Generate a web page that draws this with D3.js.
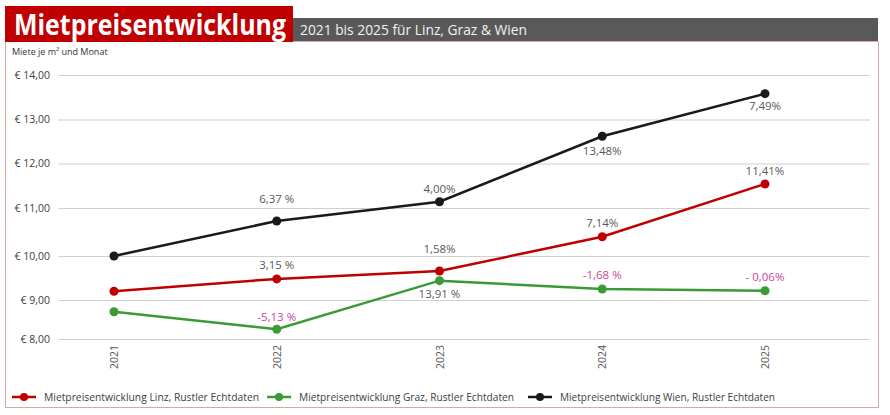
<!DOCTYPE html>
<html>
<head>
<meta charset="utf-8">
<script src="https://cdn.jsdelivr.net/npm/d3@7"></script>
<style>
  body { margin: 0; background: #fff; }
  svg { display: block; font-family: "Open Sans", sans-serif; }
</style>
</head>
<body>
<svg id="chart"></svg>
<script>
// data
const years = ['2021', '2022', '2023', '2024', '2025'];
const linz = [9.20, 9.48, 9.66, 10.40, 11.54];
const graz = [8.70, 8.25, 9.44, 9.25, 9.21];
const wien = [10.00, 10.73, 11.14, 12.62, 13.58];
const linzLabels = ['', '3,15 %', '1,58%', '7,14%', '11,41%'];
const grazLabels = ['', '-5,13 %', '13,91 %', '-1,68 %', '- 0,06%'];
const wienLabels = ['', '6,37 %', '4,00%', '13,48%', '7,49%'];
const yTicks = [8, 9, 10, 11, 12, 13, 14];
const seriesNames = [
  'Mietpreisentwicklung Linz, Rustler Echtdaten',
  'Mietpreisentwicklung Graz, Rustler Echtdaten',
  'Mietpreisentwicklung Wien, Rustler Echtdaten'
];

const width = 890, height = 415;
const svg = d3.select('#chart').attr('width', width).attr('height', height);

// layout (the grid in the picture is slightly uneven, so map each tick)
const tickPos = [339, 300, 256, 208, 163.5, 119.5, 75];
const colors = ['#c00000', '#3a9a35', '#1a1a1a'];
const labelDy = [
  [0, -14, -22, -14, -13],
  [0, -13, 13, -15, -14],
  [0, -22, -13, 14, 12]
];

const x = d3.scalePoint().domain(years).range([114, 765]);
const y = d3.scaleLinear().domain(yTicks).range(tickPos);

// frame
svg.append('rect')
  .attr('x', 5.5).attr('y', 41.5).attr('width', 873).attr('height', 366)
  .attr('fill', 'none').attr('stroke', '#d8a8a8').attr('stroke-width', 1);

// header
svg.append('rect').attr('x', 293).attr('y', 18).attr('width', 585).attr('height', 23).attr('fill', '#595959');
svg.append('rect').attr('x', 5).attr('y', 6).attr('width', 288).attr('height', 36).attr('fill', '#c00000');
svg.append('text')
  .attr('x', 14).attr('y', 35)
  .attr('fill', '#fff').attr('font-weight', 'bold').attr('font-size', 28)
  .attr('textLength', 272).attr('lengthAdjust', 'spacingAndGlyphs')
  .text('Mietpreisentwicklung');
svg.append('text')
  .attr('x', 300).attr('y', 35)
  .attr('fill', '#f2f2f2').attr('font-size', 15)
  .attr('textLength', 227).attr('lengthAdjust', 'spacingAndGlyphs')
  .text('2021 bis 2025 für Linz, Graz & Wien');

svg.append('text')
  .attr('x', 12).attr('y', 55)
  .attr('fill', '#333').attr('font-size', 9)
  .text('Miete je m² und Monat');

// y axis
const yAxis = svg.append('g')
  .attr('transform', 'translate(58,0)')
  .call(d3.axisLeft(y).tickValues(yTicks).tickSize(-812).tickPadding(8)
    .tickFormat(d => '€ ' + d3.format('.2f')(d).replace('.', ',')));
yAxis.select('.domain').remove();
yAxis.selectAll('.tick line').attr('stroke', '#d0d0d0').attr('stroke-width', 1.2);
yAxis.selectAll('.tick text').attr('fill', '#404040').attr('font-size', 10.5)
  .attr('font-family', '"Open Sans", sans-serif');

// x axis labels
const xAxis = svg.append('g')
  .attr('transform', 'translate(0,345)')
  .call(d3.axisBottom(x).tickSize(0).tickPadding(0));
xAxis.select('.domain').remove();
xAxis.selectAll('.tick text')
  .attr('fill', '#555').attr('font-size', 10.5)
  .attr('font-family', '"Open Sans", sans-serif')
  .attr('transform', 'rotate(-90)')
  .attr('text-anchor', 'end')
  .attr('dx', 0).attr('dy', '0.35em').attr('y', 0).attr('x', 0);
xAxis.selectAll('.tick text').attr('transform', 'rotate(-90)').attr('x', 0);

// lines
const series = [linz, graz, wien];
const labels = [linzLabels, grazLabels, wienLabels];
const line = d3.line().x((d, i) => x(years[i])).y(d => y(d));

series.forEach((vals, s) => {
  const g = svg.append('g');
  g.append('path').datum(vals)
    .attr('d', line).attr('fill', 'none')
    .attr('stroke', colors[s]).attr('stroke-width', 2.5);
  g.selectAll('circle').data(vals).enter().append('circle')
    .attr('cx', (d, i) => x(years[i])).attr('cy', d => y(d))
    .attr('r', 4.5).attr('fill', colors[s]);
  g.selectAll('text').data(vals).enter().append('text')
    .attr('x', (d, i) => x(years[i]))
    .attr('y', (d, i) => y(d) + labelDy[s][i])
    .attr('dominant-baseline', 'central')
    .attr('text-anchor', 'middle')
    .attr('font-size', 11.5)
    .attr('fill', (d, i) => labels[s][i].startsWith('-') ? '#cc4499' : '#595959')
    .text((d, i) => labels[s][i]);
});

// legend
const legendX = [12, 267, 528];
const legend = svg.append('g').selectAll('g').data(seriesNames).enter().append('g')
  .attr('transform', (d, i) => `translate(${legendX[i]},397)`);
legend.append('line').attr('x1', 0).attr('x2', 24)
  .attr('stroke', (d, i) => colors[i]).attr('stroke-width', 2.5);
legend.append('circle').attr('cx', 12).attr('r', 4).attr('fill', (d, i) => colors[i]);
legend.append('text')
  .attr('x', 32).attr('dominant-baseline', 'central')
  .attr('fill', '#404040').attr('font-size', 10)
  .attr('textLength', 215).attr('lengthAdjust', 'spacingAndGlyphs')
  .text(d => d);
</script>
</body>
</html>
